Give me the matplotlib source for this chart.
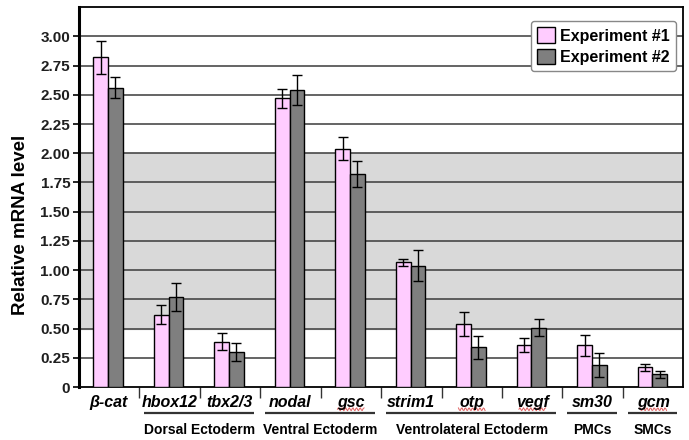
import numpy as np
import matplotlib
matplotlib.use('Agg')
import matplotlib.pyplot as plt
from matplotlib.ticker import FuncFormatter, FixedLocator

# Datos: nivel relativo de mRNA por gen, dos experimentos
genes = ['β-cat', 'hbox12', 'tbx2/3', 'nodal', 'gsc', 'strim1', 'otp', 'vegf', 'sm30', 'gcm']
exp1 = [2.82, 0.62, 0.39, 2.47, 2.04, 1.07, 0.54, 0.36, 0.36, 0.17]
exp1_err = [0.14, 0.08, 0.075, 0.08, 0.10, 0.03, 0.10, 0.06, 0.09, 0.03]
exp2 = [2.56, 0.77, 0.30, 2.54, 1.82, 1.04, 0.34, 0.51, 0.19, 0.11]
exp2_err = [0.09, 0.12, 0.08, 0.13, 0.11, 0.13, 0.095, 0.07, 0.10, 0.03]

# Grupos de tejidos (indice inicial, indice final, nombre)
grupos = [(1, 2, 'Dorsal Ectoderm'), (3, 4, 'Ventral Ectoderm'),
          (5, 7, 'Ventrolateral Ectoderm'), (8, 8, 'PMCs'), (9, 9, 'SMCs')]
subrayado_rojo = ['gsc', 'otp', 'vegf', 'gcm']

rosa = '#FFCCFF'
gris = '#7F7F7F'

plt.rcParams['font.family'] = ['Liberation Sans', 'DejaVu Sans']
plt.rcParams['font.weight'] = 'bold'

fig = plt.figure(figsize=(6.89, 4.40), dpi=100)
ax = fig.add_axes([0.114, 0.12, 0.878, 0.864])

x = np.arange(len(genes))
ancho = 0.245
ax.axhspan(0.5, 2.0, color='#D9D9D9', zorder=0)
for y in np.arange(0.25, 3.01, 0.25):
    ax.axhline(y, color='#3A3A3A', lw=1.1, zorder=1)

err_kw = dict(ecolor='black', elinewidth=1.0, capsize=3.5, capthick=1.0)
ax.bar(x - 0.135, exp1, ancho, color=rosa, edgecolor='black', lw=1.0,
       yerr=exp1_err, error_kw=err_kw, label='Experiment #1', zorder=3)
ax.bar(x - 0.135 + ancho, exp2, ancho, color=gris, edgecolor='black', lw=1.0,
       yerr=exp2_err, error_kw=err_kw, label='Experiment #2', zorder=3)

ax.set_xlim(-0.5, len(genes) - 0.5)
ax.set_ylim(0, 3.25)
ax.yaxis.set_major_locator(FixedLocator(np.arange(0, 3.01, 0.25)))
ax.yaxis.set_major_formatter(FuncFormatter(lambda v, p: '0' if v == 0 else f'{v:.2f}'))
ax.tick_params(axis='y', length=4, width=1.2, labelsize=11, pad=2)
for t in ax.get_yticklabels():
    t.set_fontweight('bold')
    t.set_color('#1F1F1F')

ax.set_xticks(np.arange(0.5, len(genes) - 1, 1.0))
ax.set_xticklabels([])
ax.tick_params(axis='x', direction='out', length=8, width=1.0, color='#333333')

for s in ['top', 'right', 'bottom']:
    ax.spines[s].set_linewidth(1.3)
ax.spines['left'].set_linewidth(2.2)

# etiqueta del eje y, algo por debajo del centro
ax.text(-0.096, 0.426, 'Relative mRNA level', transform=ax.transAxes,
        rotation=90, ha='center', va='center', fontsize=13.5, fontweight='bold')

trans = ax.get_xaxis_transform()
for i, g in enumerate(genes):
    ax.text(i, -0.04, g, transform=trans, ha='center', va='center',
            fontsize=11.5, fontstyle='italic', fontweight='bold', clip_on=False)
    if g in subrayado_rojo:
        xs = np.linspace(i - 0.22, i + 0.22, 30)
        ys = -0.058 + 0.004 * np.sin(xs * 2 * np.pi / 0.06)
        ax.plot(xs, ys, color='#E06060', lw=0.7, transform=trans, clip_on=False)

for ini, fin, nombre in grupos:
    ax.plot([ini - 0.42, fin + 0.4], [-0.069, -0.069], color='#333333', lw=1.6,
            transform=trans, clip_on=False, solid_capstyle='butt')
    ax.text((ini + fin) / 2, -0.113, nombre, transform=trans, ha='center',
            va='center', fontsize=10, fontweight='bold', clip_on=False)

leg = ax.legend(loc='upper right', bbox_to_anchor=(0.988, 0.963), fontsize=11.5,
                frameon=True, fancybox=True, edgecolor='#888888', framealpha=1,
                handlelength=1.15, handleheight=1.15, handletextpad=0.3,
                borderpad=0.4, labelspacing=0.3, borderaxespad=0)
leg.get_frame().set_linewidth(1.0)
for t in leg.get_texts():
    t.set_fontweight('bold')

fig.savefig('out.png', dpi=100)
